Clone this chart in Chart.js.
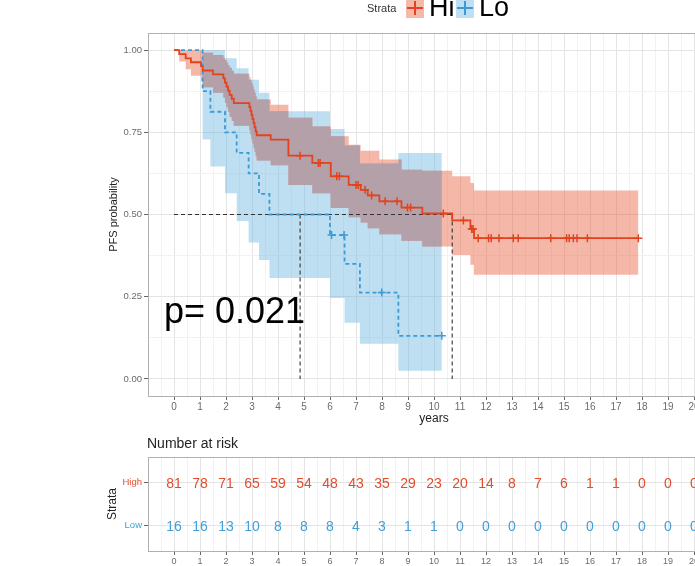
<!DOCTYPE html>
<html><head><meta charset="utf-8">
<script src="https://cdn.jsdelivr.net/npm/chart.js@4.4.1/dist/chart.umd.min.js"></script>
<style>
html,body{margin:0;padding:0;width:695px;height:566px;overflow:hidden;background:#fff;font-family:"Liberation Sans",Arial,sans-serif;}
canvas{position:absolute;left:0;}
#c1{top:0;}
#c2{top:430px;}
.t{position:absolute;white-space:nowrap;line-height:1;}
.key{position:absolute;width:18px;height:19px;top:-1px;}
.bar{position:absolute;}
</style></head><body>
<canvas id="c1" width="730" height="430"></canvas>
<canvas id="c2" width="730" height="136"></canvas>

<div class="t" style="left:367px;top:3px;font-size:11px;color:#333">Strata</div>
<div class="key" style="left:406px;background:#F6B9A9">
  <div class="bar" style="left:1px;top:8px;width:16px;height:2px;background:#E2431E"></div>
  <div class="bar" style="left:8px;top:2px;width:2px;height:14px;background:#E2431E"></div>
</div>
<div class="t" style="left:429px;top:-6px;font-size:27px;color:#000">Hi</div>
<div class="key" style="left:456px;background:#BFDFF2">
  <div class="bar" style="left:1px;top:8px;width:16px;height:2px;background:#3C9BD6"></div>
  <div class="bar" style="left:8px;top:2px;width:2px;height:14px;background:#3C9BD6"></div>
</div>
<div class="t" style="left:479px;top:-6px;font-size:27px;color:#000">Lo</div>

<div class="t" style="left:164px;top:293px;font-size:36px;color:#000">p= 0.021</div>
<div class="t" style="left:147px;top:436px;font-size:14px;color:#222">Number at risk</div>

<script>
// ---------- data ----------
const hiTimes = [0, 0.2, 0.45, 0.65, 1.04, 1.1, 1.5, 1.9, 1.96, 2.02, 2.08, 2.14, 2.22, 2.3, 2.9, 2.94, 2.98, 3.02, 3.06, 3.1, 3.14, 3.18, 3.72, 4.4, 5.32, 6.03, 6.72, 7.18, 7.45, 7.9, 8.75, 9.55, 10.7, 11.4, 11.54, 17.86];
const hiSurv  = [1, 0.988, 0.975, 0.963, 0.951, 0.938, 0.926, 0.914, 0.901, 0.889, 0.877, 0.864, 0.852, 0.839, 0.827, 0.815, 0.802, 0.790, 0.778, 0.765, 0.753, 0.741, 0.728, 0.679, 0.657, 0.616, 0.590, 0.575, 0.558, 0.540, 0.521, 0.503, 0.482, 0.456, 0.428, 0.428];
const hiUpper = [1, 1, 1, 1, 0.999, 0.992, 0.985, 0.977, 0.970, 0.962, 0.954, 0.946, 0.937, 0.928, 0.919, 0.910, 0.900, 0.890, 0.880, 0.870, 0.860, 0.850, 0.834, 0.794, 0.768, 0.738, 0.712, 0.694, 0.694, 0.667, 0.636, 0.633, 0.616, 0.596, 0.573, 0.573];
const hiLower = [1, 0.965, 0.942, 0.922, 0.905, 0.887, 0.870, 0.855, 0.840, 0.826, 0.812, 0.797, 0.784, 0.770, 0.756, 0.743, 0.729, 0.716, 0.703, 0.690, 0.677, 0.664, 0.650, 0.590, 0.565, 0.520, 0.492, 0.476, 0.458, 0.440, 0.420, 0.403, 0.377, 0.347, 0.317, 0.317];
const hiCensorTimes = [4.85, 5.55, 5.62, 6.26, 6.36, 7.0, 7.08, 7.35, 7.6, 8.12, 8.58, 8.98, 9.1, 10.36, 11.13, 11.45, 11.5, 11.7, 12.1, 12.2, 12.5, 13.05, 13.24, 14.49, 15.1, 15.2, 15.36, 15.5, 15.9, 17.86];

const loTimes = [0, 1.1, 1.4, 1.96, 2.41, 2.87, 3.27, 3.67, 6.0, 6.56, 7.15, 8.63, 10.3];
const loSurv  = [1, 0.875, 0.8125, 0.75, 0.6875, 0.625, 0.5625, 0.5, 0.4375, 0.35, 0.2625, 0.131, 0.131];
const loUpper = [1, 1, 1, 0.975, 0.945, 0.91, 0.87, 0.814, 0.76, 0.71, 0.655, 0.687, 0.687];
const loLower = [1, 0.728, 0.646, 0.565, 0.48, 0.415, 0.362, 0.307, 0.246, 0.171, 0.107, 0.025, 0.025];
const loCensorTimes = [6.06, 6.54, 7.99, 10.3];

const medianHi = 10.7;
const medianLo = 4.85;

const riskTimes = [0,1,2,3,4,5,6,7,8,9,10,11,12,13,14,15,16,17,18,19,20];
const riskHigh  = [81,78,71,65,59,54,48,43,35,29,23,20,14,8,7,6,1,1,0,0,0];
const riskLow   = [16,16,13,10,8,8,8,4,3,1,1,0,0,0,0,0,0,0,0,0,0];

const xTickLabels = [0,1,2,3,4,5,6,7,8,9,10,11,12,13,14,15,16,17,18,19,20];
const yTickLabels = [0, 0.25, 0.5, 0.75, 1];

// ---------- helpers ----------
const RED = '#E2431E', BLUE = '#3C9BD6';
const FONT = '"Liberation Sans", Arial, sans-serif';
function pts(ts, vs){ return ts.map((t,i)=>({x:t, y:vs[i]})); }
function stepAt(ts, vs, t){ let v = vs[0]; for (let i=0;i<ts.length;i++){ if (ts[i] <= t + 1e-9) v = vs[i]; else break; } return v; }

const tEnd = Math.min(hiTimes[hiTimes.length-1], loTimes[loTimes.length-1]);
const unionT = [...new Set([...hiTimes, ...loTimes])].filter(t => t <= tEnd).sort((a,b)=>a-b);
const ovUp = unionT.map(t => ({x:t, y: Math.min(stepAt(hiTimes,hiUpper,t), stepAt(loTimes,loUpper,t))}));
const ovLo = unionT.map((t,i) => ({x:t, y: Math.min(ovUp[i].y, Math.max(stepAt(hiTimes,hiLower,t), stepAt(loTimes,loLower,t)))}));

const isMajorX = v => Math.abs(v - Math.round(v)) < 1e-6;
const isMajorY = v => Math.abs(v*4 - Math.round(v*4)) < 1e-6;

const panelBorder = {
  id: 'panelBorder',
  beforeDatasetsDraw(chart){
    const {ctx, chartArea:a} = chart;
    ctx.save();
    ctx.strokeStyle = '#B0B0B0'; ctx.lineWidth = 1;
    ctx.strokeRect(Math.round(a.left)+0.5, Math.round(a.top)+0.5, Math.round(a.right-a.left), Math.round(a.bottom-a.top));
    ctx.restore();
  }
};

function band(data, color, order, fill){
  return {data, borderWidth:0, pointRadius:0, stepped:true, fill: fill ? '+1' : false,
          backgroundColor: color, borderColor:'rgba(0,0,0,0)', order};
}

function xScale(labelSize, height, withTitle){
  return {
    type:'linear', min:-1, max:21,
    ticks:{stepSize:0.5, autoSkip:false, maxRotation:0, minRotation:0, includeBounds:false, padding:1,
           color:'#6b6b6b', font:{size:labelSize, family:FONT},
           callback:(v)=> (isMajorX(v) && xTickLabels.includes(Math.round(v))) ? String(Math.round(v)) : ''},
    grid:{color: c => (c.tick && isMajorX(c.tick.value)) ? '#E4E4E4' : '#F2F2F2', lineWidth:1, tickLength:4,
          tickColor: c => (c.tick && isMajorX(c.tick.value) && c.tick.value >= 0) ? '#666' : 'rgba(0,0,0,0)'},
    border:{color:'#8a8a8a', width:1},
    title:{display:withTitle, text:'years', color:'#222', font:{size:12, family:FONT}, padding:{top:4,bottom:4}},
    afterFit: s => { s.height = height; }
  };
}

// ---------- main KM chart ----------
new Chart(document.getElementById('c1'), {
  type:'line',
  data:{ datasets:[
    {data:pts(hiTimes,hiSurv), borderColor:RED, borderWidth:1.8, stepped:true, pointRadius:0, fill:false, order:1},
    {data:pts(loTimes,loSurv), borderColor:BLUE, borderWidth:1.8, borderDash:[4,3], stepped:true, pointRadius:0, fill:false, order:1},
    {data:hiCensorTimes.map(t=>({x:t, y:stepAt(hiTimes,hiSurv,t)})), showLine:false, pointStyle:'cross', pointRadius:4,
     pointBorderWidth:1.5, pointBorderColor:RED, borderColor:RED, order:0},
    {data:loCensorTimes.map(t=>({x:t, y:stepAt(loTimes,loSurv,t)})), showLine:false, pointStyle:'cross', pointRadius:4,
     pointBorderWidth:1.5, pointBorderColor:BLUE, borderColor:BLUE, order:0},
    {data:[{x:0,y:0.5},{x:Math.max(medianHi,medianLo),y:0.5}], borderColor:'#333', borderWidth:1.1, borderDash:[4,3], pointRadius:0, fill:false, order:2},
    {data:[{x:medianLo,y:0.5},{x:medianLo,y:0}], borderColor:'#333', borderWidth:1.1, borderDash:[4,3], pointRadius:0, fill:false, order:2},
    {data:[{x:medianHi,y:0.5},{x:medianHi,y:0}], borderColor:'#333', borderWidth:1.1, borderDash:[4,3], pointRadius:0, fill:false, order:2},
    band(ovUp, 'rgba(178,160,170,0.92)', 10, true),
    band(ovLo, 'rgba(0,0,0,0)', 10, false),
    band(pts(hiTimes,hiUpper), 'rgba(233,95,62,0.45)', 11, true),
    band(pts(hiTimes,hiLower), 'rgba(0,0,0,0)', 11, false),
    band(pts(loTimes,loUpper), 'rgba(111,184,226,0.45)', 12, true),
    band(pts(loTimes,loLower), 'rgba(0,0,0,0)', 12, false)
  ]},
  options:{
    responsive:false, animation:false, events:[],
    layout:{padding:{left:103, top:33, right:10, bottom:0}},
    plugins:{legend:{display:false}, tooltip:{enabled:false}},
    elements:{line:{tension:0}},
    scales:{
      x: xScale(10, 34, true),
      y:{type:'linear', min:-0.052, max:1.052,
         ticks:{stepSize:0.125, includeBounds:false, autoSkip:false, padding:2, color:'#6b6b6b', font:{size:9.5, family:FONT},
                callback:(v)=> (isMajorY(v) && v >= -1e-9 && v <= 1+1e-9) ? v.toFixed(2) : ''},
         grid:{color: c => (c.tick && isMajorY(c.tick.value)) ? '#E4E4E4' : '#F2F2F2', lineWidth:1, tickLength:4,
               tickColor: c => (c.tick && isMajorY(c.tick.value)) ? '#666' : 'rgba(0,0,0,0)'},
         border:{color:'#8a8a8a', width:1},
         title:{display:true, text:'PFS probability', color:'#222', font:{size:11, family:FONT}, padding:{top:4,bottom:4}},
         afterFit: s => { s.width = 45; }
      }
    }
  },
  plugins:[panelBorder]
});

// ---------- risk table ----------
const riskText = {
  id:'riskText',
  afterDatasetsDraw(chart){
    const ctx = chart.ctx;
    chart.data.datasets.forEach((ds,i)=>{
      const meta = chart.getDatasetMeta(i);
      ctx.save();
      ctx.font = '14px ' + FONT;
      ctx.fillStyle = ds.textColor;
      ctx.textAlign = 'center';
      ctx.textBaseline = 'middle';
      meta.data.forEach((el,j)=>{ ctx.fillText(String(ds.counts[j]), el.x, el.y + 1.5); });
      ctx.restore();
    });
  }
};

new Chart(document.getElementById('c2'), {
  type:'line',
  data:{ datasets:[
    {data:riskTimes.map(t=>({x:t,y:1})), counts:riskHigh, textColor:'#E64B2A', showLine:false, pointRadius:0},
    {data:riskTimes.map(t=>({x:t,y:2})), counts:riskLow, textColor:'#3FA0DA', showLine:false, pointRadius:0}
  ]},
  options:{
    responsive:false, animation:false, events:[],
    layout:{padding:{left:101, top:27, right:10, bottom:0}},
    plugins:{legend:{display:false}, tooltip:{enabled:false}},
    scales:{
      x: xScale(9, 15, false),
      y:{type:'linear', min:0.4, max:2.6, reverse:true,
         ticks:{stepSize:1, includeBounds:false, autoSkip:false, padding:2,
                color: c => (c.tick && c.tick.value === 1) ? '#E64B2A' : '#3FA0DA', font:{size:9.5, family:FONT},
                callback:(v)=> v === 1 ? 'High' : (v === 2 ? 'Low' : '')},
         grid:{color:'#E4E4E4', lineWidth:1, tickLength:4, tickColor:'#666'},
         border:{color:'#8a8a8a', width:1},
         title:{display:true, text:'Strata', color:'#222', font:{size:12, family:FONT}, padding:{top:4,bottom:4}},
         afterFit: s => { s.width = 47; }
      }
    }
  },
  plugins:[panelBorder, riskText]
});
</script>
</body></html>
